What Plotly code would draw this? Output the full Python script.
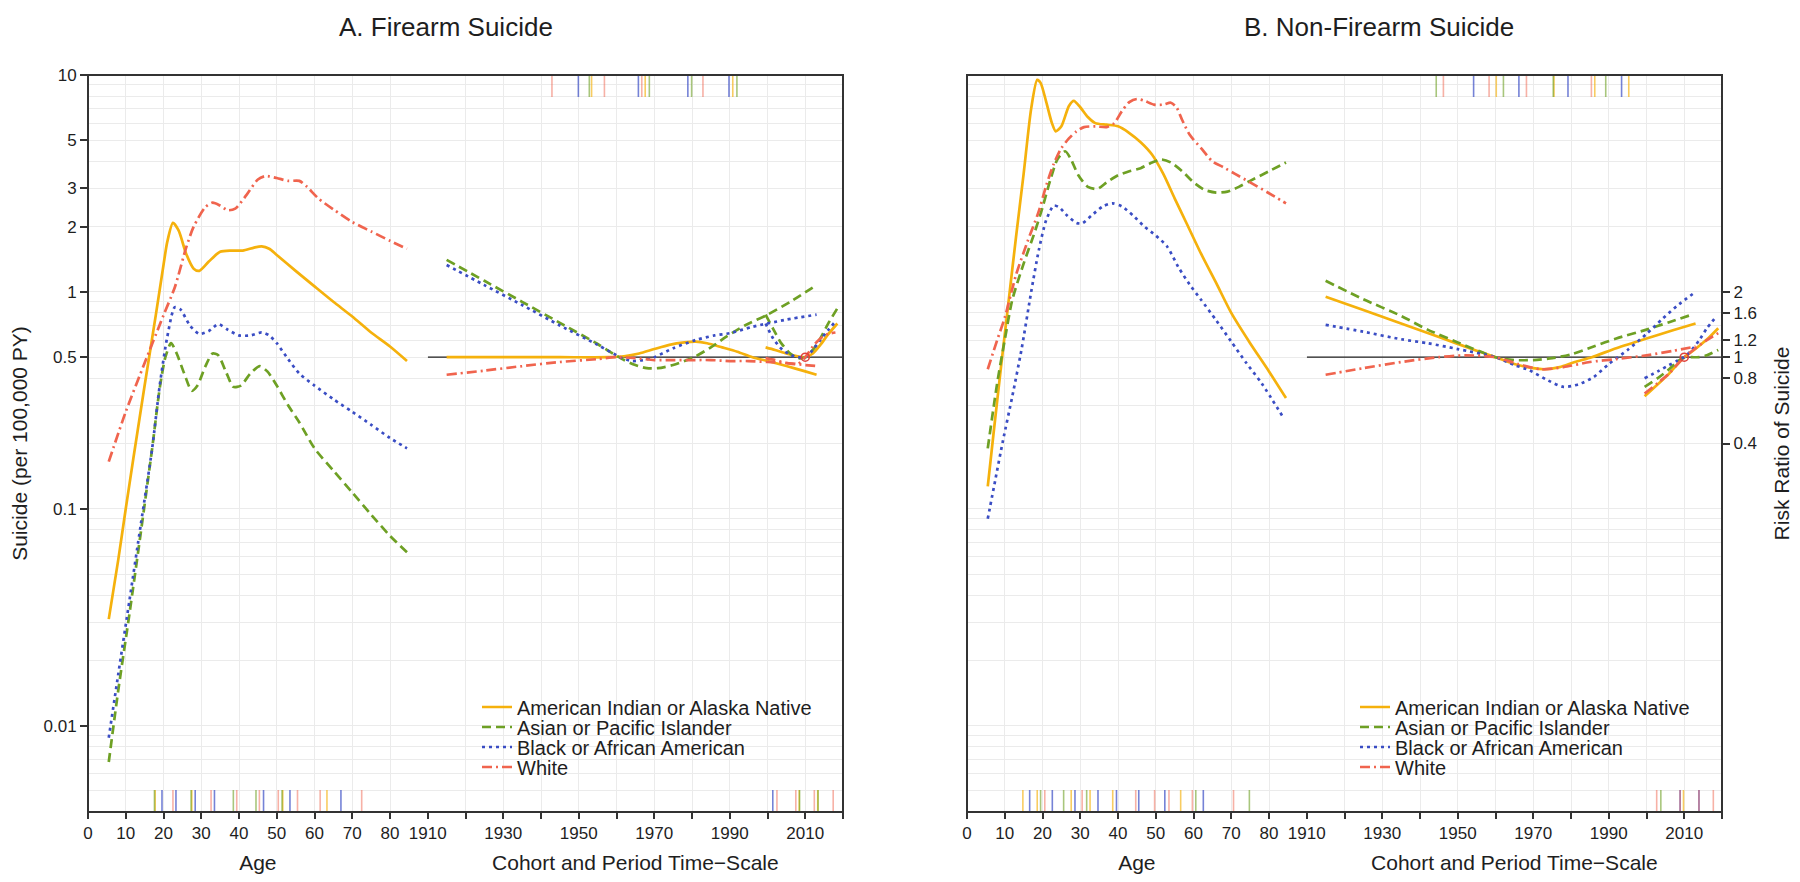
import math
import plotly.graph_objects as go

# ---------------- data ----------------
RACES = ["American Indian or Alaska Native", "Asian or Pacific Islander",
         "Black or African American", "White"]

# Panel A (firearm): age effect, rate per 100,000 PY
A_AGE_AIAN_X = [5.5, 8, 10, 12, 15, 18, 20, 21, 22.5, 24, 26, 28, 29.5, 32, 35, 38, 41, 44, 46, 48, 50, 55, 60, 65, 70, 75, 80, 84.5]
A_AGE_AIAN_Y = [0.031, 0.058, 0.10, 0.17, 0.37, 0.79, 1.33, 1.7, 2.08, 1.92, 1.5, 1.28, 1.25, 1.38, 1.53, 1.55, 1.55, 1.6, 1.62, 1.58, 1.48, 1.25, 1.06, 0.9, 0.77, 0.65, 0.56, 0.48]
A_AGE_API_X = [5.5, 8, 11, 14, 17, 19, 20.5, 22, 23.5, 25.5, 27.5, 29, 31, 33, 34.5, 36.5, 38.5, 40.5, 43, 45.5, 47.5, 50, 53, 56, 60, 65, 70, 75, 80, 84.5]
A_AGE_API_Y = [0.0068, 0.0145, 0.033, 0.078, 0.19, 0.36, 0.5, 0.58, 0.52, 0.42, 0.35, 0.37, 0.45, 0.52, 0.51, 0.43, 0.365, 0.37, 0.42, 0.455, 0.43, 0.37, 0.3, 0.25, 0.19, 0.15, 0.119, 0.094, 0.075, 0.063]
A_AGE_BAA_X = [5.5, 8, 11, 14, 17, 19, 21, 23, 24.5, 27, 29.5, 32, 34.5, 37, 40, 43, 46, 48, 50, 53, 56, 60, 65, 70, 75, 80, 84.5]
A_AGE_BAA_Y = [0.0088, 0.0172, 0.038, 0.085, 0.19, 0.37, 0.62, 0.85, 0.83, 0.7, 0.64, 0.66, 0.71, 0.67, 0.63, 0.63, 0.65, 0.63, 0.58, 0.49, 0.42, 0.37, 0.32, 0.28, 0.244, 0.212, 0.19]
A_AGE_WHITE_X = [5.5, 10, 15, 20, 23, 26, 28, 31, 33, 35, 37, 39, 42, 45, 47, 50, 53, 56, 58, 61, 65, 70, 75, 80, 84.5]
A_AGE_WHITE_Y = [0.165, 0.28, 0.47, 0.78, 1.05, 1.6, 2.0, 2.45, 2.58, 2.5, 2.38, 2.42, 2.8, 3.3, 3.42, 3.35, 3.25, 3.25, 3.05, 2.7, 2.4, 2.1, 1.9, 1.72, 1.58]

# Panel A: cohort effect (risk ratio)
A_COH_AIAN_X = [1915, 1930, 1945, 1958, 1962, 1966, 1970, 1974, 1978, 1981, 1984, 1988, 1992, 1996, 2000, 2005, 2010, 2013]
A_COH_AIAN_Y = [1.0, 1.0, 1.0, 1.0, 1.01, 1.04, 1.09, 1.14, 1.17, 1.18, 1.16, 1.11, 1.06, 1.0, 0.96, 0.91, 0.86, 0.83]
A_COH_API_X = [1915, 1925, 1935, 1945, 1955, 1959, 1962, 1965, 1968, 1971, 1975, 1978, 1981, 1985, 1989, 1994, 2000, 2006, 2013]
A_COH_API_Y = [2.81, 2.25, 1.8, 1.44, 1.15, 1.04, 0.97, 0.92, 0.89, 0.89, 0.92, 0.96, 1.01, 1.11, 1.24, 1.4, 1.57, 1.8, 2.15]
A_COH_BAA_X = [1915, 1925, 1935, 1945, 1955, 1961, 1964, 1967, 1970, 1975, 1981, 1986, 1990, 1996, 2005, 2013]
A_COH_BAA_Y = [2.66, 2.15, 1.74, 1.4, 1.14, 1.0, 0.96, 0.97, 1.0, 1.1, 1.2, 1.26, 1.29, 1.38, 1.49, 1.57]
A_COH_WHITE_X = [1915, 1925, 1935, 1945, 1955, 1960, 1965, 1970, 1975, 1980, 1985, 1990, 1995, 2000, 2005, 2010, 2013]
A_COH_WHITE_Y = [0.83, 0.867, 0.91, 0.95, 0.98, 1.0, 0.99, 0.97, 0.97, 0.97, 0.97, 0.96, 0.96, 0.95, 0.94, 0.92, 0.91]

# Panel A: period effect (risk ratio)
A_PER_AIAN_X = [1999.5, 2002, 2005, 2008, 2010, 2012, 2014, 2016, 2018.5]
A_PER_AIAN_Y = [1.11, 1.08, 1.04, 1.01, 1.0, 1.04, 1.14, 1.27, 1.43]
A_PER_API_X = [1999.5, 2001.5, 2003.5, 2006, 2008, 2010, 2012, 2014, 2016, 2018.5]
A_PER_API_Y = [1.57, 1.35, 1.17, 1.04, 0.99, 1.0, 1.08, 1.22, 1.42, 1.68]
A_PER_BAA_X = [1999.5, 2001.5, 2004, 2007, 2010, 2012, 2014, 2016, 2018]
A_PER_BAA_Y = [1.43, 1.22, 1.08, 1.01, 1.0, 1.08, 1.2, 1.33, 1.46]
A_PER_WHITE_X = [1999.5, 2002, 2005, 2008, 2010, 2012, 2014, 2016, 2018]
A_PER_WHITE_Y = [0.99, 0.97, 0.94, 0.93, 1.0, 1.12, 1.22, 1.28, 1.3]

# Panel B (non-firearm): age effect
B_AGE_AIAN_X = [5.5, 7, 9, 11, 13, 15, 17, 18.6, 19.5, 21, 22.5, 23.5, 25, 27, 28.3, 30, 32, 34, 37, 40, 43, 46, 49, 52, 55, 58, 62, 66, 70, 75, 80, 84.5]
B_AGE_AIAN_Y = [0.127, 0.22, 0.45, 0.9, 1.8, 3.5, 7.0, 9.5, 9.2, 7.5, 6.0, 5.5, 5.8, 7.2, 7.6, 7.1, 6.4, 6.0, 5.9, 5.8, 5.4, 4.9, 4.3, 3.5, 2.7, 2.1, 1.5, 1.1, 0.8, 0.58, 0.43, 0.324]
B_AGE_API_X = [5.5, 8, 10, 12, 15, 18, 20, 22, 24, 26, 27.5, 29.5, 32, 34.5, 37, 40, 43, 46, 49, 51.5, 54, 57, 60, 63, 66, 69, 72, 75, 80, 84.5]
B_AGE_API_Y = [0.19, 0.38, 0.6, 0.92, 1.35, 1.9, 2.45, 3.25, 4.1, 4.45, 4.1, 3.45, 3.05, 2.98, 3.2, 3.45, 3.6, 3.72, 3.95, 4.08, 3.95, 3.6, 3.2, 2.95, 2.87, 2.9, 3.05, 3.25, 3.6, 3.95]
B_AGE_BAA_X = [5.5, 7.5, 9.5, 12, 14.5, 17, 19, 21, 23, 24.5, 26.5, 29, 30.5, 33, 36, 38.5, 41, 44, 47, 50, 53, 56, 59, 62, 66, 70, 74, 78, 84]
B_AGE_BAA_Y = [0.09, 0.136, 0.205, 0.33, 0.55, 1.0, 1.55, 2.15, 2.5, 2.45, 2.25, 2.08, 2.07, 2.25, 2.48, 2.56, 2.48, 2.25, 2.0, 1.82, 1.62, 1.3, 1.08, 0.92, 0.74, 0.59, 0.47, 0.38, 0.26]
B_AGE_WHITE_X = [5.5, 8, 10, 13, 16, 19, 21, 23, 25, 27, 29, 31, 34, 37, 39, 41, 43, 45, 47, 49.5, 52, 54, 55.5, 57, 59, 62, 65, 68, 71, 75, 80, 84.5]
B_AGE_WHITE_Y = [0.44, 0.6, 0.76, 1.2, 1.7, 2.35, 3.1, 3.9, 4.6, 5.1, 5.5, 5.75, 5.8, 5.75, 6.0, 6.8, 7.5, 7.75, 7.6, 7.3, 7.3, 7.45, 7.1, 6.2, 5.3, 4.6, 4.0, 3.75, 3.5, 3.2, 2.85, 2.56]

# Panel B: cohort effect
B_COH_AIAN_X = [1915, 1925, 1935, 1945, 1955, 1960, 1965, 1970, 1973, 1977, 1981, 1985.5, 1992, 2000, 2007, 2013]
B_COH_AIAN_Y = [1.9, 1.65, 1.43, 1.24, 1.07, 1.0, 0.93, 0.89, 0.88, 0.9, 0.95, 1.0, 1.1, 1.22, 1.33, 1.43]
B_COH_API_X = [1915, 1925, 1935, 1942, 1950, 1960, 1965, 1970, 1975, 1980, 1986, 1992, 2000, 2006, 2012]
B_COH_API_Y = [2.25, 1.85, 1.55, 1.34, 1.17, 1.0, 0.97, 0.97, 0.99, 1.03, 1.12, 1.22, 1.34, 1.45, 1.57]
B_COH_BAA_X = [1915, 1925, 1935, 1942, 1950, 1960, 1965, 1969, 1974, 1978, 1982, 1986, 1990, 1995, 2000, 2004, 2008, 2013]
B_COH_BAA_Y = [1.41, 1.31, 1.21, 1.16, 1.09, 1.0, 0.92, 0.87, 0.78, 0.73, 0.75, 0.81, 0.93, 1.08, 1.28, 1.49, 1.72, 2.0]
B_COH_WHITE_X = [1915, 1925, 1935, 1945, 1952, 1960, 1966, 1972, 1978, 1985, 1992, 2000, 2007, 2013]
B_COH_WHITE_Y = [0.83, 0.89, 0.95, 1.0, 1.02, 1.0, 0.93, 0.88, 0.9, 0.95, 0.98, 1.02, 1.07, 1.12]

# Panel B: period effect
B_PER_AIAN_X = [1999.5, 2003, 2006, 2008, 2010, 2012, 2014, 2016.5, 2019]
B_PER_AIAN_Y = [0.66, 0.75, 0.84, 0.92, 1.0, 1.06, 1.13, 1.23, 1.36]
B_PER_API_X = [1999.5, 2003, 2006, 2008, 2010, 2012, 2014, 2016, 2019]
B_PER_API_Y = [0.73, 0.8, 0.88, 0.95, 1.0, 1.0, 1.0, 1.02, 1.08]
B_PER_BAA_X = [1999.5, 2003, 2006, 2008, 2010, 2012, 2014, 2016, 2018.5]
B_PER_BAA_Y = [0.8, 0.86, 0.92, 0.96, 1.0, 1.08, 1.2, 1.36, 1.54]
B_PER_WHITE_X = [1999.5, 2003, 2006, 2008, 2010, 2013, 2016, 2019]
B_PER_WHITE_Y = [0.68, 0.76, 0.84, 0.92, 1.0, 1.1, 1.2, 1.29]

# Knot locations (rug marks)
A_RUG_AGE = [[17.8, 27.5, 51.6, 63.3], [17.6, 27.3, 38.5, 44.5, 51.4],
             [19.6, 23.3, 28.4, 33.5, 46.5, 53.5, 67.0], [22.5, 32.6, 39.4, 45.4, 50.4, 55.5, 61.5, 72.5]]
A_RUG_COH = [[1953.4, 1967.6, 1990.8], [1952.8, 1968.7, 1979.9, 1991.9],
             [1949.9, 1965.8, 1978.9, 1989.8], [1942.9, 1956.8, 1966.7, 1982.9]]
A_RUG_PER = [[2008.4, 2013.3], [2008.5, 2013.4], [2001.4], [2002.5, 2007.5, 2012.4, 2017.4]]
B_RUG_AGE = [[14.8, 18.6, 27.6, 32.6, 38.6, 56.6], [19.5, 25.6, 31.7, 60.6, 74.8],
             [16.6, 22.6, 28.6, 34.7, 39.6, 45.5, 52.4, 62.6], [20.6, 30.5, 44.7, 49.7, 53.5, 59.7, 70.6]]
B_RUG_COH = [[1960.2, 1975.5, 1986.3, 1995.3], [1944.3, 1962.1, 1975.3, 1989.2],
             [1954.2, 1966.2, 1979.2, 1993.4], [1946.2, 1958.3, 1968.2, 1985.4]]
B_RUG_PER = [[2009.8], [2003.8], [2008.9, 2013.9], [2002.7, 2008.9, 2013.9, 2017.7]]

REF_YEAR = 2010
AGE_TICKS = [0, 10, 20, 30, 40, 50, 60, 70, 80]
YEAR_TICKS = [1910, 1920, 1930, 1940, 1950, 1960, 1970, 1980, 1990, 2000, 2010, 2020]
RATE_TICKS = [0.01, 0.1, 0.5, 1, 2, 3, 5, 10]
RR_TICKS = [0.4, 0.8, 1, 1.2, 1.6, 2]

# ---------------- styling ----------------
COLORS = ["#F5B10C", "#6EA024", "#3A4DC4", "#F0644E"]
RUG_COLORS = ["rgba(245,177,12,0.65)", "rgba(110,160,36,0.6)", "rgba(58,77,196,0.7)", "rgba(240,100,78,0.5)"]
DASHES = ["solid", "9px,5px", "3px,4px", "10px,4px,2px,4px"]
FONT = "Liberation Sans, Arial, Helvetica, sans-serif"
INK = "#1e1e1e"
GRID = "#EBEBEB"

# page body has an 8px margin: figure is shifted by OFF on screen
OFF = 8
SCREEN_W, SCREEN_H = 1800, 882
W, H = SCREEN_W - OFF, SCREEN_H - OFF
PLOT_TOP, PLOT_BOTTOM, PLOT_LEFT, PLOT_RIGHT = 75, 812, 88, 1722   # screen px
ML, MT = PLOT_LEFT - OFF, PLOT_TOP - OFF
MR, MB = SCREEN_W - PLOT_RIGHT, SCREEN_H - PLOT_BOTTOM
PW, PH = W - ML - MR, H - MT - MB
PANEL_W = 755
AGE_FRAC = 90 / 200.0


def px_x(px):
    return (px - PLOT_LEFT) / PW


def px_y(py):
    return (PLOT_BOTTOM - py) / PH


RATE_RANGE = [math.log10(0.004), math.log10(10)]
RR_RANGE = [math.log10(0.008), math.log10(20)]
RUG_FACTOR = 10 ** (22 / (PH / (RATE_RANGE[1] - RATE_RANGE[0])))

rate_grid = [m * 10 ** e for e in (-3, -2, -1, 0) for m in range(1, 10) if 0.004 <= m * 10 ** e <= 10] + [10]
rr_grid = [2 * v for v in rate_grid]

panels = {
    "A": dict(left=88,
              age=[A_AGE_AIAN_X, A_AGE_API_X, A_AGE_BAA_X, A_AGE_WHITE_X],
              age_y=[A_AGE_AIAN_Y, A_AGE_API_Y, A_AGE_BAA_Y, A_AGE_WHITE_Y],
              coh=[A_COH_AIAN_X, A_COH_API_X, A_COH_BAA_X, A_COH_WHITE_X],
              coh_y=[A_COH_AIAN_Y, A_COH_API_Y, A_COH_BAA_Y, A_COH_WHITE_Y],
              per=[A_PER_AIAN_X, A_PER_API_X, A_PER_BAA_X, A_PER_WHITE_X],
              per_y=[A_PER_AIAN_Y, A_PER_API_Y, A_PER_BAA_Y, A_PER_WHITE_Y],
              rug_age=A_RUG_AGE, rug_coh=A_RUG_COH, rug_per=A_RUG_PER,
              axes=("x", "y", "x2", "y2"), legend_x=477, legend0=1,
              title="A. Firearm Suicide", title_x=446),
    "B": dict(left=967,
              age=[B_AGE_AIAN_X, B_AGE_API_X, B_AGE_BAA_X, B_AGE_WHITE_X],
              age_y=[B_AGE_AIAN_Y, B_AGE_API_Y, B_AGE_BAA_Y, B_AGE_WHITE_Y],
              coh=[B_COH_AIAN_X, B_COH_API_X, B_COH_BAA_X, B_COH_WHITE_X],
              coh_y=[B_COH_AIAN_Y, B_COH_API_Y, B_COH_BAA_Y, B_COH_WHITE_Y],
              per=[B_PER_AIAN_X, B_PER_API_X, B_PER_BAA_X, B_PER_WHITE_X],
              per_y=[B_PER_AIAN_Y, B_PER_API_Y, B_PER_BAA_Y, B_PER_WHITE_Y],
              rug_age=B_RUG_AGE, rug_coh=B_RUG_COH, rug_per=B_RUG_PER,
              axes=("x3", "y3", "x4", "y4"), legend_x=1355, legend0=5,
              title="B. Non-Firearm Suicide", title_x=1379),
}

fig = go.Figure()


def rug_xy(xs, lo, hi):
    X, Y = [], []
    for v in xs:
        X += [v, v, None]
        Y += [lo, hi, None]
    return X, Y


annotations = []
shapes = []
layout_extra = {}

for key, p in panels.items():
    xa, ya, xb, yb = p["axes"]
    # reference line RR = 1
    fig.add_trace(go.Scatter(x=[YEAR_TICKS[0], YEAR_TICKS[-1]], y=[1, 1], mode="lines",
                             line=dict(color=INK, width=1.3), xaxis=xb, yaxis=yb,
                             showlegend=False, hoverinfo="skip"))
    for i, race in enumerate(RACES):
        leg = "legend" if p["legend0"] + i == 1 else "legend%d" % (p["legend0"] + i)
        line = dict(color=COLORS[i], width=2.7, dash=DASHES[i], shape="spline", smoothing=0.7)
        fig.add_trace(go.Scatter(x=p["age"][i], y=p["age_y"][i], mode="lines", line=line,
                                 name=race, legend=leg, legendgroup=key + race,
                                 xaxis=xa, yaxis=ya))
        fig.add_trace(go.Scatter(x=p["coh"][i], y=p["coh_y"][i], mode="lines", line=line,
                                 name=race, legendgroup=key + race, showlegend=False,
                                 xaxis=xb, yaxis=yb))
        fig.add_trace(go.Scatter(x=p["per"][i], y=p["per_y"][i], mode="lines", line=line,
                                 name=race, legendgroup=key + race, showlegend=False,
                                 xaxis=xb, yaxis=yb))
        # rugs
        rx, ry = rug_xy(p["rug_age"][i], 0.004, 0.004 * RUG_FACTOR)
        fig.add_trace(go.Scatter(x=rx, y=ry, mode="lines", line=dict(color=RUG_COLORS[i], width=1.6),
                                 xaxis=xa, yaxis=ya, showlegend=False, hoverinfo="skip"))
        rx, ry = rug_xy(p["rug_coh"][i], 20 / RUG_FACTOR, 20)
        fig.add_trace(go.Scatter(x=rx, y=ry, mode="lines", line=dict(color=RUG_COLORS[i], width=1.6),
                                 xaxis=xb, yaxis=yb, showlegend=False, hoverinfo="skip"))
        rx, ry = rug_xy(p["rug_per"][i], 0.008, 0.008 * RUG_FACTOR)
        fig.add_trace(go.Scatter(x=rx, y=ry, mode="lines", line=dict(color=RUG_COLORS[i], width=1.6),
                                 xaxis=xb, yaxis=yb, showlegend=False, hoverinfo="skip"))
        layout_extra[leg] = dict(x=px_x(p["legend_x"]), y=px_y(707 + 20 * i), xanchor="left",
                                 yanchor="middle", bgcolor="rgba(0,0,0,0)",
                                 font=dict(family=FONT, size=20, color=INK),
                                 itemwidth=30, tracegroupgap=0)
    # reference point
    fig.add_trace(go.Scatter(x=[REF_YEAR], y=[1], mode="markers",
                             marker=dict(symbol="circle-open", size=8, color="#E0403A", line=dict(width=1.6)),
                             xaxis=xb, yaxis=yb, showlegend=False, hoverinfo="skip"))
    # frame
    x0 = px_x(p["left"])
    x1 = px_x(p["left"] + PANEL_W)
    shapes.append(dict(type="rect", xref="paper", yref="paper", x0=x0, x1=x1, y0=0, y1=1,
                       line=dict(color="#333333", width=2), layer="above"))
    annotations.append(dict(text=p["title"], x=px_x(p["title_x"]), y=px_y(OFF + 2), xref="paper", yref="paper",
                            showarrow=False, xanchor="center", yanchor="top",
                            font=dict(family=FONT, size=26, color=INK)))

tickfont = dict(family=FONT, size=17, color=INK)
titlefont = dict(family=FONT, size=21, color=INK)


def age_axis(left):
    return dict(domain=[px_x(left), px_x(left + PANEL_W * AGE_FRAC)], range=[0, 90],
                tickmode="array", tickvals=AGE_TICKS, ticktext=[str(v) for v in AGE_TICKS],
                ticks="outside", ticklen=6, tickwidth=1.5, tickcolor="#333", tickfont=tickfont,
                showgrid=True, gridcolor=GRID, gridwidth=1, zeroline=False, showline=False,
                title=dict(text="Age", font=titlefont, standoff=12))


def year_axis(left):
    return dict(domain=[px_x(left + PANEL_W * AGE_FRAC), px_x(left + PANEL_W)], range=[1910, 2020],
                tickmode="array", tickvals=YEAR_TICKS,
                ticktext=[str(v) if (v - 1910) % 20 == 0 and v < 2020 else "" for v in YEAR_TICKS],
                ticks="outside", ticklen=6, tickwidth=1.5, tickcolor="#333", tickfont=tickfont,
                showgrid=True, gridcolor=GRID, gridwidth=1, zeroline=False, showline=False,
                title=dict(text="Cohort and Period Time\u2212Scale", font=titlefont, standoff=12))


def rate_axis(anchor, labels):
    d = dict(type="log", range=RATE_RANGE, domain=[0, 1], anchor=anchor,
             showgrid=False, zeroline=False, showline=False,
             minor=dict(tickmode="array", tickvals=rate_grid, showgrid=True, gridcolor=GRID,
                        gridwidth=1, ticks=""))
    if labels:
        d.update(tickmode="array", tickvals=RATE_TICKS, ticktext=[("%g" % v) for v in RATE_TICKS],
                 ticks="outside", ticklen=7, tickwidth=1.5, tickcolor="#333", tickfont=tickfont,
                 title=dict(text="Suicide (per 100,000 PY)", font=titlefont, standoff=13))
    else:
        d.update(tickmode="array", tickvals=[], showticklabels=False, ticks="")
    return d


def rr_axis(anchor, labels):
    d = dict(type="log", range=RR_RANGE, domain=[0, 1], anchor=anchor,
             showgrid=False, zeroline=False, showline=False,
             minor=dict(tickmode="array", tickvals=rr_grid, showgrid=True, gridcolor=GRID,
                        gridwidth=1, ticks=""))
    if labels:
        d.update(side="right", tickmode="array", tickvals=RR_TICKS, ticktext=[("%g" % v) for v in RR_TICKS],
                 ticks="outside", ticklen=7, tickwidth=1.5, tickcolor="#333", tickfont=tickfont,
                 title=dict(text="Risk Ratio of Suicide", font=titlefont, standoff=18))
    else:
        d.update(tickmode="array", tickvals=[], showticklabels=False, ticks="")
    return d


xa1 = age_axis(88); xa1["anchor"] = "y"
xa2 = year_axis(88); xa2["anchor"] = "y2"
xa3 = age_axis(967); xa3["anchor"] = "y3"
xa4 = year_axis(967); xa4["anchor"] = "y4"

fig.update_layout(
    width=W, height=H,
    margin=dict(l=ML, r=MR, t=MT, b=MB, autoexpand=False),
    paper_bgcolor="white", plot_bgcolor="white",
    font=dict(family=FONT, color=INK),
    xaxis=xa1, xaxis2=xa2, xaxis3=xa3, xaxis4=xa4,
    yaxis=rate_axis("x", True), yaxis2=rr_axis("x2", False),
    yaxis3=rate_axis("x3", False), yaxis4=rr_axis("x4", True),
    annotations=annotations, shapes=shapes,
    **layout_extra,
)

fig.write_html("out.html")
